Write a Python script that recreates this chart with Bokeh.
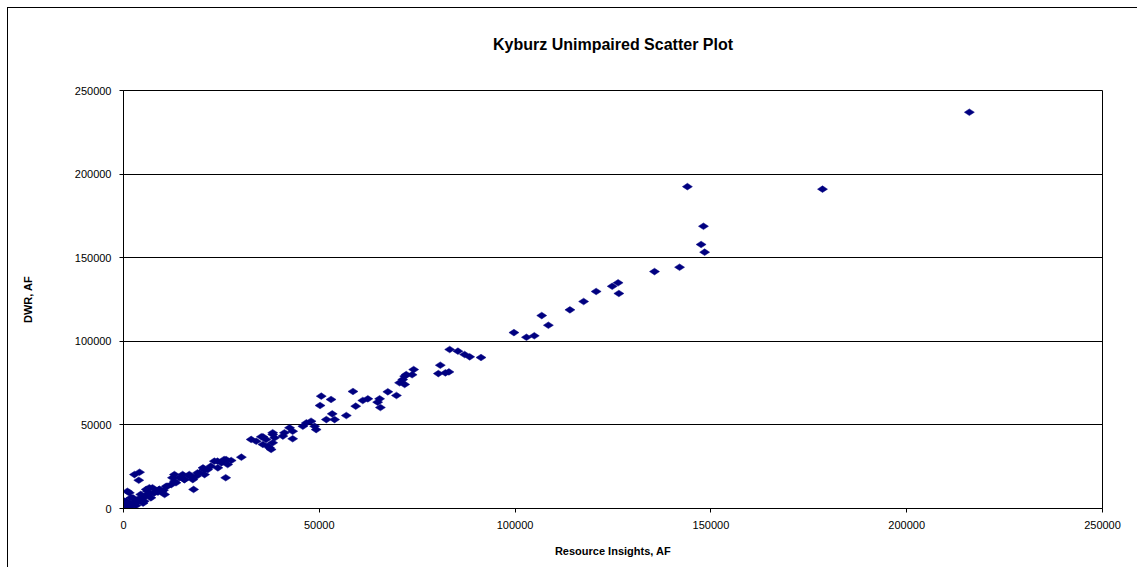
import numpy as np
from bokeh.plotting import figure
from bokeh.models import FixedTicker, BasicTickFormatter, Title
from bokeh.embed import file_html
from bokeh.resources import INLINE

title_text = "Kyburz Unimpaired Scatter Plot"
x_label = "Resource Insights, AF"
y_label = "DWR, AF"
tick_values = [0, 50000, 100000, 150000, 200000, 250000]

resource_insights = [
    216000, 178500, 144000, 148100, 147500, 148400, 142000, 135600, 126300, 124800,
    126500, 120700, 117500, 114000, 106800, 108500, 99700, 102900, 104900, 91300,
    88400, 87100, 85400, 83300, 80900, 80400, 83100, 82200, 74100, 73700,
    71800, 72200, 71300, 70500, 71800, 67500, 69700, 65400, 64900, 65600,
    62400, 61100, 59300, 58600, 56900, 53300, 53900, 51800, 53000, 50500,
    50200, 47900, 46700, 48800, 45800, 49200, 42400, 43200, 41100, 38100,
    35600, 43200, 40700, 38100, 36900, 35600, 37700, 38100, 38600, 36400,
    32600, 33900, 30100, 27500, 26200, 26600, 25000, 23200, 24100, 26100,
    21500, 20300, 19400, 20700, 18600, 17700, 17900, 16900, 15600, 14300,
    13000, 13000, 12200, 10900, 10500, 9200, 8400, 6600, 5800, 4100,
    2800, 3900, 1500, 2400, 700, 300, 1000, 200, 1900, 600,
    2700, 4400, 6100, 7400, 9100, 11200, 13400, 12500, 15500, 15100,
    16800, 18900, 20600, 22300, 24000, 25700, 7000, 5300, 35200, 37300,
    500, 1200, 2000, 3000, 1500, 800, 3500, 4800, 5500, 6500,
    7800, 9800, 300, 1100, 2300, 4000, 3200, 5000, 8800, 10200,
]
dwr = [
    237000, 191000, 192500, 168800, 157900, 153300, 144300, 141700, 135000, 132900,
    128600, 129800, 123800, 118800, 115400, 109600, 105200, 102400, 103300, 90300,
    90700, 92100, 94100, 95100, 85700, 80700, 81700, 81100, 83100, 80000,
    79100, 80100, 77100, 75200, 74200, 69800, 67600, 65600, 63600, 60400,
    65600, 64600, 61200, 70000, 55600, 56600, 53200, 53200, 65200, 67200,
    61600, 52200, 51200, 49200, 49200, 47200, 48300, 46200, 45300, 44300,
    42900, 41700, 43300, 45300, 37300, 38300, 35300, 39300, 42300, 41300,
    41300, 40200, 30700, 28700, 29300, 26300, 27300, 28300, 24300, 18400,
    23300, 24300, 21300, 20300, 19300, 17300, 11400, 19300, 17300, 18400,
    20300, 16300, 14300, 13300, 8400, 11400, 10300, 12400, 11400, 21700,
    20300, 16900, 9400, 6400, 4400, 1400, 10300, 4400, 6400, 1400,
    2400, 8400, 10300, 12400, 11400, 13300, 15400, 18400, 17300, 20300,
    20300, 21300, 23300, 25300, 28300, 29300, 6400, 4400, 42900, 36300,
    500, 800, 1500, 3500, 2800, 2200, 5000, 6000, 7500, 8500,
    9200, 10000, 2600, 200, 3000, 5800, 1800, 3200, 9800, 10900,
]

FONT = "Liberation Sans"

p = figure(
    width=1130, height=560,
    output_backend="svg", toolbar_location=None,
    x_range=(0, 250000), y_range=(0, 250000),
    min_border_left=115, min_border_top=82, min_border_right=36, min_border_bottom=60,
)
p.styles = {"border-left": "1px solid #000000", "border-top": "1px solid #000000",
            "margin-left": "7px", "margin-top": "7px"}
p.background_fill_color = "white"
p.border_fill_color = "white"
p.outline_line_color = "black"
p.outline_line_width = 1

# blank spacer between the title and the plot area
p.add_layout(Title(text=" ", text_font=FONT, text_font_size="10px", standoff=0), "above")
p.add_layout(Title(text=title_text, align="center", vertical_align="bottom",
                   text_font=FONT, text_font_size="16px", text_font_style="bold",
                   text_color="black", standoff=50), "above")

for ax in (p.xaxis[0], p.yaxis[0]):
    ax.ticker = FixedTicker(ticks=tick_values)
    ax.formatter = BasicTickFormatter(use_scientific=False)
    ax.major_label_text_font = FONT
    ax.major_label_text_font_size = "11px"
    ax.major_label_text_color = "black"
    ax.axis_label_text_font = FONT
    ax.axis_label_text_font_size = "11px"
    ax.axis_label_text_font_style = "bold"
    ax.axis_label_text_color = "black"
    ax.axis_line_color = "black"
    ax.major_tick_line_color = "black"
    ax.major_tick_out = 4
    ax.major_tick_in = 0
    ax.minor_tick_line_color = None
    ax.major_label_standoff = 8

p.xaxis.axis_label = x_label
p.yaxis.axis_label = y_label
p.xaxis.axis_label_standoff = 13
p.yaxis.axis_label_standoff = 38

p.xgrid.grid_line_color = None
p.ygrid.ticker = FixedTicker(ticks=tick_values)
p.ygrid.grid_line_color = "black"
p.ygrid.grid_line_width = 1

p.scatter(resource_insights, dwr, marker="diamond", angle=np.pi / 2, size=10,
          fill_color="#000080", line_color="#000080", line_width=0.5)

open("out.html", "w").write(file_html(p, INLINE))
